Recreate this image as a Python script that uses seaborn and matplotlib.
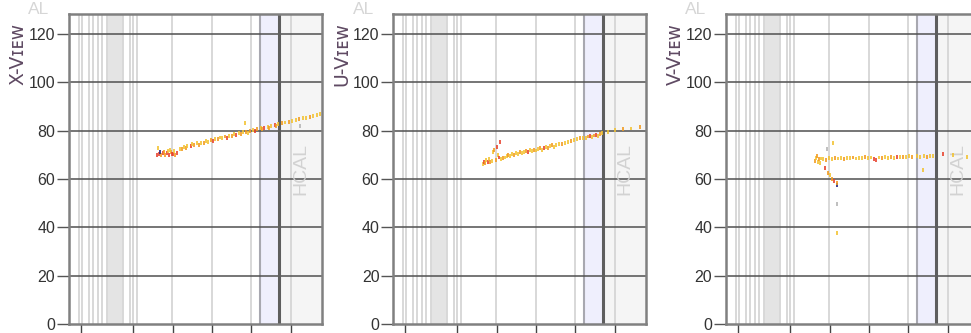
import matplotlib
matplotlib.use("Agg")
import matplotlib.pyplot as plt
import seaborn as sns
import pandas as pd

# ---------------- data ----------------
view_labels = ["X-Vɪᴇᴡ", "U-Vɪᴇᴡ", "V-Vɪᴇᴡ"]
region_label = "HCAL"
top_label = "AL"
y_ticks = [0, 20, 40, 60, 80, 100, 120]
z_ticks = [12, 64, 104, 143, 182, 222]

# detector geometry (z units)
thin_planes = [10, 13, 20, 24, 29, 33, 38, 54, 61, 64, 68, 103, 143, 182, 222]
absorber_band = (38, 54)
ecal_band = (191, 210)
hcal_start = 210

# X view hits
x_z = [88, 90, 92, 94, 96, 98, 100, 102, 104, 106, 108, 91, 89, 101, 105, 95, 99, 103,
       111, 113, 114.5, 117, 118, 121.5, 123, 125, 128.5, 130, 132, 135.5, 137, 139,
       142.5, 144, 146, 149.5, 151, 153, 156.5, 158, 160, 163.5, 165, 167, 170.5, 172,
       174, 176, 177.5, 179, 181, 184.5, 186, 188, 191.5, 193, 195, 198.5, 200, 202,
       205.5, 207, 209, 212.5, 216, 219.5, 223, 226.5, 230, 231, 233.5, 237, 240.5,
       244, 247.5, 251]
x_y = [70.0, 70.4, 69.8, 70.9, 70.1, 70.6, 69.9, 71.0, 70.3, 70.0, 70.8, 71.0, 72.8, 72.2, 71.6, 71.3, 71.5, 70.5,
       72.6, 72.3, 73.4, 73.0, 73.7, 73.6, 74.6, 74.0, 74.8, 74.2, 75.1, 75.0, 75.9, 75.4,
       76.1, 75.6, 76.5, 76.4, 77.2, 76.9, 77.6, 77.0, 77.9, 77.8, 78.6, 78.2, 79.0, 78.5,
       79.3, 83.0, 79.6, 79.2, 80.0, 80.3, 79.9, 80.7, 81.0, 80.6, 81.3, 81.6, 81.3, 82.0,
       82.3, 81.9, 82.7, 83.0, 83.4, 83.7, 84.0, 84.4, 84.8, 82.0, 85.1, 85.4, 85.8,
       86.1, 86.5, 86.8]
x_c = ["r", "r", "o", "r", "o", "r", "r", "o", "r", "o", "r", "b", "y", "y", "y", "o", "y", "r",
       "y", "o", "y", "o", "y", "r", "y", "o", "y", "o", "y", "o", "y", "y",
       "o", "r", "y", "o", "y", "y", "o", "r", "y", "o", "y", "r", "y", "o",
       "y", "y", "o", "y", "o", "y", "r", "o", "y", "o", "r", "y", "o", "y",
       "r", "o", "y", "o", "y", "o", "y", "y", "o", "g", "y", "y", "o",
       "y", "y", "y"]

# U view hits
u_z = [90, 91, 92, 93, 95, 96, 97, 99, 100, 101, 104, 107, 105,
       103, 106, 108, 110, 112, 114, 115, 117, 119, 121, 123, 125, 127, 129, 131, 133,
       135, 137, 139, 141, 143, 145, 147, 149, 151, 153, 155, 157, 159, 161, 163, 166,
       169, 172, 175, 178, 181, 184, 187, 190, 193, 195, 197, 199, 201, 203, 205, 207,
       209, 215, 222, 230, 238, 247]
u_y = [66.2, 67.0, 66.5, 67.8, 66.9, 68.3, 67.2, 67.5, 71.2, 72.0, 73.2, 75.3, 70.0,
       67.8, 68.9, 68.4, 68.6, 68.9, 69.6, 70.1, 69.4, 70.5, 69.8, 70.7, 70.2, 71.0, 70.6, 71.2, 71.6,
       71.0, 71.9, 71.5, 72.2, 71.8, 72.5, 72.9, 72.2, 73.0, 73.3, 72.8, 73.6, 73.9, 73.4, 74.1, 74.6,
       74.4, 75.0, 75.5, 75.6, 76.2, 76.4, 76.8, 77.1, 77.0, 77.6, 77.8, 77.3, 78.0, 78.3, 77.9, 78.6,
       78.9, 79.5, 80.1, 80.6, 80.9, 81.5]
u_c = ["y", "r", "o", "y", "r", "y", "o", "y", "y", "o", "r", "r", "y",
       "o", "r", "y", "o", "y", "y", "o", "y", "y", "o", "y", "y", "o", "y", "y", "o",
       "r", "y", "y", "o", "y", "y", "o", "y", "r", "y", "o", "y", "o", "y", "y", "y",
       "o", "y", "y", "o", "y", "y", "o", "y", "y", "o", "r", "y", "o", "r", "y", "o",
       "y", "y", "y", "o", "y", "o"]

# V view hits
v_z = [89, 90, 91, 92, 93, 94, 95,
       99, 102, 104, 106, 108, 111, 111, 111, 111, 101, 107,
       97, 100, 103, 106, 109, 112, 115, 118, 121, 124, 127, 130, 133, 136, 139, 142,
       145, 148, 150, 153, 156, 159, 162, 165, 168, 171, 174, 177, 180, 183, 186, 191,
       194, 197, 198, 201, 204, 207, 217, 227, 241]
v_y = [67.5, 68.8, 69.6, 67.0, 68.2, 66.8, 68.5,
       64.5, 62.5, 61.5, 60.0, 59.0, 57.5, 58.5, 49.6, 37.6, 72.4, 74.9,
       68.4, 68.0, 68.6, 68.3, 68.7, 68.5, 68.8, 68.4, 68.7, 68.6, 68.9, 68.5, 68.8, 68.6, 69.0, 68.7,
       68.9, 68.3, 67.8, 68.9, 68.6, 69.0, 68.8, 69.1, 68.8, 69.2, 69.0, 69.3, 69.1, 69.4, 69.0, 69.5,
       69.2, 63.7, 69.6, 69.3, 69.7, 69.4, 70.3, 69.8, 69.2]
v_c = ["o", "y", "o", "y", "o", "y", "y",
       "r", "o", "y", "o", "r", "b", "o", "g", "y", "g", "y",
       "y", "o", "y", "y", "o", "y", "y", "o", "y", "y", "o", "y", "y", "y", "o", "y",
       "y", "r", "r", "y", "o", "y", "y", "o", "y", "r", "y", "o", "y", "y", "o", "y",
       "y", "y", "y", "o", "y", "y", "r", "y", "y"]

palette = {"y": "#f2c230", "o": "#f29a1e", "r": "#e8412c", "b": "#23237e", "g": "#b4b4b4"}

views = [(x_z, x_y, x_c), (u_z, u_y, u_c), (v_z, v_y, v_c)]

# ---------------- figure ----------------
sns.set_style("white")
W, H = 971, 333
fig = plt.figure(figsize=(W / 100, H / 100), dpi=100)
lefts = [69, 393.3, 726]
ax_w, ax_bottom, ax_h = 253, 9, 310

for left, label, (zz, yy, cc) in zip(lefts, view_labels, views):
    ax = fig.add_axes([left / W, ax_bottom / H, ax_w / W, ax_h / H])
    ax.set_xlim(0, 253)
    ax.set_ylim(0, 128.3)

    ax.axvspan(hcal_start, 253, color="#f5f5f5", zorder=0, lw=0)
    ax.axvspan(*ecal_band, color="#efeffd", zorder=0, lw=0)
    ax.axvspan(*absorber_band, color="#e4e4e4", zorder=0, lw=0)
    for z in thin_planes:
        ax.axvline(z, color="#d8d8d8", lw=1.4, zorder=1)
    ax.axvline(ecal_band[0], color="#a8a8b0", lw=1.5, zorder=2)
    for yv in y_ticks[1:]:
        ax.axhline(yv, color="#505050", lw=1.1, zorder=2)
    ax.axvline(hcal_start, color="#5e5e5e", lw=2.2, zorder=3)

    df = pd.DataFrame({"z": zz, "y": yy, "c": cc})
    sns.scatterplot(data=df, x="z", y="y", hue="c", palette=palette, marker="|",
                    s=8, linewidth=1.2, legend=False, ax=ax, zorder=5)

    ax.text((hcal_start + 253) / 2, 64, region_label, rotation=90, ha="center", va="center",
            color="#d2d2d2", fontsize=14, family="Liberation Sans", zorder=4)

    ax.set_xlabel("")
    ax.set_ylabel("")
    ax.set_yticks(y_ticks)
    ax.set_yticklabels([str(t) for t in y_ticks], family="Liberation Sans")
    ax.set_xticks(z_ticks)
    ax.set_xticklabels([])
    ax.tick_params(axis="y", left=True, length=9, width=1.0, color="#555555",
                   labelsize=11.5, labelcolor="#333333", pad=1)
    ax.tick_params(axis="x", bottom=True, length=14, width=1.0, color="#444444")
    for sp in ax.spines.values():
        sp.set_visible(True)
        sp.set_color("#808080")
        sp.set_linewidth(1.8)
        sp.set_zorder(6)

    fig.text((left - 51) / W, 1 - 54 / H, label, rotation=90, ha="center", va="center",
             fontsize=13.5, color="#5f4a63", family="DejaVu Sans")
    fig.text((left - 30) / W, 1 - 14 / H, top_label, ha="center", va="baseline",
             fontsize=12.5, color="#d6d6d6", family="Liberation Sans")

fig.savefig("out.png", dpi=100)
